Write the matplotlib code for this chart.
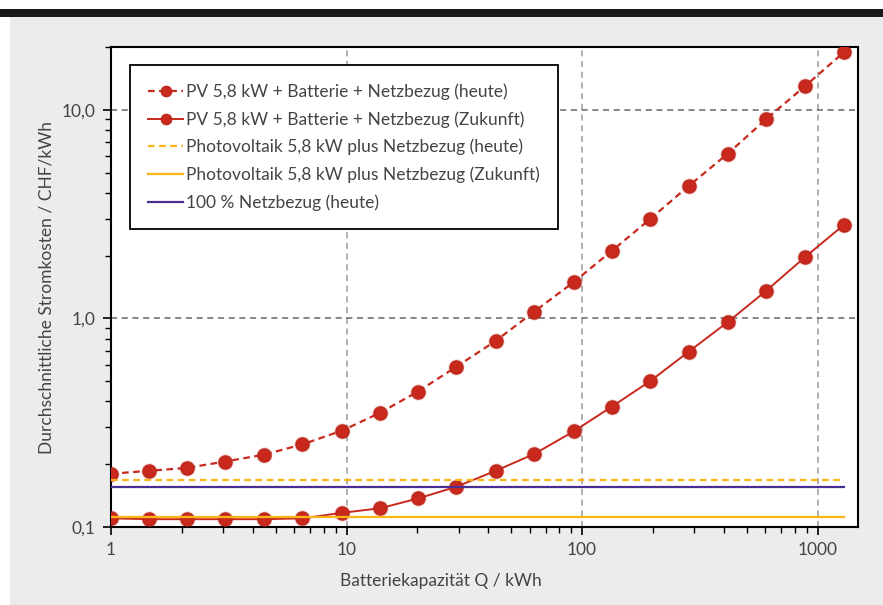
import matplotlib
matplotlib.use("Agg")
import matplotlib.pyplot as plt
from matplotlib.patches import Rectangle
from matplotlib.ticker import FixedLocator, LogLocator, NullFormatter

plt.rcParams['font.family'] = ['Lato', 'DejaVu Sans']

# batteriekapazitaet in kWh
kapazitaet = [1, 1.45, 2.1, 3.05, 4.45, 6.5, 9.6, 13.9, 20.1, 29.3, 43, 62.7,
              92, 134, 195, 284, 415, 607, 886, 1295]

# durchschnittliche stromkosten CHF/kWh
kosten_heute = [0.180, 0.186, 0.192, 0.206, 0.222, 0.249, 0.290, 0.353, 0.446,
                0.587, 0.780, 1.078, 1.49, 2.11, 3.00, 4.32, 6.15, 9.05, 13.0, 18.9]
kosten_zukunft = [0.110, 0.109, 0.109, 0.109, 0.109, 0.110, 0.117, 0.123, 0.137,
                  0.156, 0.186, 0.224, 0.287, 0.378, 0.501, 0.693, 0.959, 1.36,
                  1.97, 2.81]

# konstante vergleichswerte
pv_heute = 0.168
pv_zukunft = 0.112
netz_heute = 0.155

labels = ["PV 5,8 kW + Batterie + Netzbezug (heute)",
          "PV 5,8 kW + Batterie + Netzbezug (Zukunft)",
          "Photovoltaik 5,8 kW plus Netzbezug (heute)",
          "Photovoltaik 5,8 kW plus Netzbezug (Zukunft)",
          "100 % Netzbezug (heute)"]

y_ticks = [0.1, 1, 10]
y_ticklabels = ["0,1", "1,0", "10,0"]
x_ticks = [1, 10, 100, 1000]
x_ticklabels = ["1", "10", "100", "1000"]

red = '#c9291d'
yellow = '#fbb517'
purple = '#4a2f92'
txt = '#444444'

fig = plt.figure(figsize=(8.83, 6.05), dpi=100)
fig.patch.set_facecolor('white')

# background panel and top bar
fig.patches.append(Rectangle((10/883, 0), 1, 1 - 17/605, transform=fig.transFigure,
                             facecolor='#ececec', edgecolor='none', zorder=-10))
fig.patches.append(Rectangle((0, 1 - 17/605), 1, 8/605, transform=fig.transFigure,
                             facecolor='#1a1a1a', edgecolor='none', zorder=-9))

ax = fig.add_axes([111/883, 1 - 527/605, 747/883, 480/605])
ax.set_facecolor('white')

marker_kw = dict(marker='o', markersize=9.5, markerfacecolor=red,
                 markeredgecolor='#b82519', markeredgewidth=0.8)

# soft halo round the markers
ax.plot(kapazitaet, kosten_heute, ls='none', marker='o', markersize=11.5,
        color=red, alpha=0.3, markeredgewidth=0, zorder=2)
ax.plot(kapazitaet, kosten_zukunft, ls='none', marker='o', markersize=11.5,
        color=red, alpha=0.3, markeredgewidth=0, zorder=2)

l1, = ax.plot(kapazitaet, kosten_heute, color=red, lw=1.6, ls=(0, (3, 2)),
              zorder=3, **marker_kw)
l2, = ax.plot(kapazitaet, kosten_zukunft, color=red, lw=1.4, zorder=3, **marker_kw)

x_range = [kapazitaet[0], kapazitaet[-1]]
l3, = ax.plot(x_range, [pv_heute] * 2, color=yellow, lw=1.6, ls=(0, (3, 2)), zorder=4)
l4, = ax.plot(x_range, [pv_zukunft] * 2, color=yellow, lw=1.6, zorder=4)
l5, = ax.plot(x_range, [netz_heute] * 2, color=purple, lw=1.6, zorder=4)

ax.set_xscale('log')
ax.set_yscale('log')
ax.set_xlim(1, 1485)
ax.set_ylim(0.1, 20)

ax.xaxis.set_major_locator(FixedLocator(x_ticks))
ax.set_xticklabels(x_ticklabels)
ax.xaxis.set_minor_locator(LogLocator(base=10, subs=range(2, 10)))
ax.xaxis.set_minor_formatter(NullFormatter())
ax.yaxis.set_major_locator(FixedLocator(y_ticks))
ax.set_yticklabels(y_ticklabels)
ax.yaxis.set_minor_locator(LogLocator(base=10, subs=range(2, 10)))
ax.yaxis.set_minor_formatter(NullFormatter())

ax.tick_params(which='major', direction='out', length=6, width=1.2, colors='black',
               labelcolor=txt, labelsize=12.5, pad=5)
ax.tick_params(which='minor', direction='out', length=4, width=1.0, colors='black')

ax.xaxis.grid(True, which='major', color='#9a9a9a', ls=(0, (4, 3)), lw=1.1)
ax.yaxis.grid(True, which='major', color='#666666', ls=(0, (4, 3)), lw=1.1)
ax.set_axisbelow(True)

for s in ax.spines.values():
    s.set_linewidth(1.5)
    s.set_color('black')

ax.set_xlabel("Batteriekapazität Q / kWh", fontsize=12.5, color=txt)
ax.xaxis.set_label_coords((441 - 111) / 747, -0.096)
ax.set_ylabel("Durchschnittliche Stromkosten / CHF/kWh", fontsize=12.5, color=txt)
ax.yaxis.set_label_coords(-0.075, 0.5)

leg = ax.legend([l1, l2, l3, l4, l5], labels, loc='upper left',
                bbox_to_anchor=((130 - 111) / 747, (527 - 65) / 480),
                borderaxespad=0, fancybox=False, framealpha=1, edgecolor='black',
                fontsize=12.5, handlelength=2.0, handletextpad=0.2, labelspacing=0.65,
                borderpad=1.05, markerscale=0.8, numpoints=1)
leg.get_frame().set_linewidth(1.3)
for t in leg.get_texts():
    t.set_color(txt)

fig.savefig("out.png", dpi=100)
